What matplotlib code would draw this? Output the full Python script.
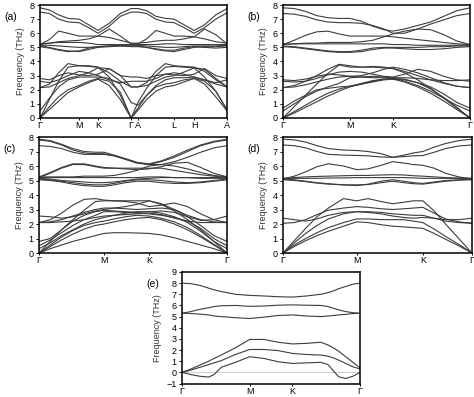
import matplotlib
matplotlib.use("Agg")
import matplotlib.pyplot as plt

plt.rcParams["font.family"] = ["Liberation Sans", "DejaVu Sans"]

# ---------------- panel (a): G-M-K-G-A-L-H-A ----------------
a_k = [0, .05, .10, .15, .209, .26, .31, .37, .43, .487, .524,
       .57, .62, .67, .717, .77, .824, .88, .94, 1.0]
a_ticks = [0, .209, .31, .487, .524, .717, .824, 1.0]
a_labels = ["Γ", "M", "K", "Γ", "A", "L", "H", "A"]
a_bands = [
    [7.8, 7.65, 7.3, 7.05, 7.0, 6.6, 6.2, 6.7, 7.4, 7.75, 7.75, 7.6, 7.2, 7.05, 7.0, 6.6, 6.2, 6.6, 7.3, 7.75],
    [7.5, 7.4, 7.0, 6.8, 6.75, 6.4, 6.0, 6.5, 7.2, 7.5, 7.5, 7.4, 7.0, 6.8, 6.75, 6.4, 6.0, 6.4, 7.0, 7.45],
    [5.2, 5.55, 6.15, 6.0, 5.8, 5.8, 5.8, 6.3, 5.8, 5.25, 5.25, 5.6, 6.2, 6.0, 5.8, 5.8, 5.75, 6.3, 5.9, 5.25],
    [5.2, 5.3, 5.4, 5.45, 5.5, 5.6, 5.8, 5.7, 5.5, 5.3, 5.3, 5.35, 5.45, 5.5, 5.5, 5.6, 5.75, 5.6, 5.4, 5.3],
    [5.25, 5.3, 5.35, 5.35, 5.35, 5.3, 5.2, 5.2, 5.2, 5.2, 5.2, 5.2, 5.2, 5.25, 5.25, 5.2, 5.2, 5.2, 5.2, 5.2],
    [5.1, 5.0, 4.85, 4.75, 4.7, 4.85, 5.0, 5.05, 5.1, 5.1, 5.1, 5.0, 4.85, 4.75, 4.7, 4.85, 5.0, 5.05, 5.05, 5.1],
    [5.05, 4.95, 4.8, 4.7, 4.75, 4.95, 5.05, 5.1, 5.1, 5.05, 5.05, 5.0, 4.9, 4.8, 4.8, 4.95, 5.05, 5.0, 4.95, 5.0],
    [5.15, 5.15, 5.1, 5.05, 5.0, 5.0, 5.05, 5.1, 5.15, 5.15, 5.15, 5.1, 5.05, 5.0, 5.0, 5.05, 5.1, 5.1, 5.1, 5.15],
    [0, .6, 1.2, 1.8, 2.2, 2.5, 2.75, 2.3, 1.3, 0, .55, 1.3, 1.9, 2.2, 2.3, 2.55, 2.8, 2.4, 1.5, .5],
    [0, .8, 1.5, 2.0, 2.3, 2.6, 2.8, 2.6, 1.8, 0, .7, 1.6, 2.2, 2.4, 2.5, 2.7, 2.8, 2.6, 1.9, .6],
    [0, 1.3, 2.6, 3.6, 3.7, 3.65, 3.6, 2.9, 1.6, 0, 1.1, 2.1, 3.0, 3.6, 3.65, 3.6, 3.55, 2.9, 1.9, .55],
    [2.15, 2.4, 3.2, 3.85, 3.7, 3.7, 3.6, 3.2, 2.6, 2.2, 2.2, 2.5, 3.3, 3.85, 3.7, 3.65, 3.6, 3.3, 2.7, 2.2],
    [2.15, 2.2, 2.5, 2.8, 3.0, 3.2, 3.55, 3.5, 3.0, 2.2, 2.2, 2.3, 2.6, 2.9, 3.0, 3.25, 3.55, 3.45, 2.8, 2.2],
    [2.6, 2.5, 2.7, 3.0, 3.3, 3.2, 3.0, 2.7, 2.5, 2.6, 2.6, 2.6, 2.8, 3.1, 3.2, 3.1, 2.9, 2.7, 2.5, 2.7],
    [2.8, 2.7, 3.0, 3.2, 3.05, 3.0, 3.1, 3.5, 3.0, 2.9, 2.9, 2.8, 3.0, 3.1, 3.05, 3.0, 3.1, 3.5, 3.0, 2.8],
    [.5, 1.4, 2.2, 2.7, 2.9, 2.9, 2.9, 2.8, 2.4, 1.1, .9, 1.6, 2.3, 2.7, 2.85, 2.85, 2.9, 2.7, 2.4, 2.2],
]

# ---------------- panel (b): G-M-K-G ----------------
b_k = [0, .06, .12, .18, .24, .30, .358, .42, .48, .54, .588, .65, .72, .79, .86, .93, 1.0]
b_ticks = [0, .358, .588, 1.0]
b_labels = ["Γ", "M", "K", "Γ"]
b_bands = [
    [7.8, 7.75, 7.55, 7.25, 7.1, 7.05, 7.05, 6.85, 6.5, 6.25, 6.15, 6.3, 6.55, 6.8, 7.2, 7.6, 7.8],
    [7.4, 7.35, 7.2, 6.95, 6.8, 6.75, 6.75, 6.7, 6.55, 6.3, 6.0, 6.0, 6.3, 6.65, 6.95, 7.25, 7.4],
    [5.2, 5.5, 5.85, 6.1, 6.15, 5.95, 5.8, 5.8, 5.8, 5.8, 5.75, 5.65, 5.55, 5.45, 5.35, 5.25, 5.2],
    [5.2, 5.25, 5.3, 5.3, 5.35, 5.35, 5.35, 5.4, 5.5, 5.75, 5.95, 6.15, 6.3, 6.25, 5.9, 5.45, 5.2],
    [5.25, 5.25, 5.25, 5.25, 5.25, 5.25, 5.25, 5.25, 5.25, 5.25, 5.2, 5.2, 5.15, 5.15, 5.15, 5.15, 5.15],
    [5.1, 5.05, 4.95, 4.85, 4.75, 4.7, 4.7, 4.8, 4.95, 5.0, 5.0, 5.0, 5.0, 5.05, 5.05, 5.1, 5.1],
    [5.05, 5.0, 4.9, 4.8, 4.7, 4.65, 4.65, 4.7, 4.85, 4.95, 4.95, 4.9, 4.85, 4.85, 4.9, 5.0, 5.05],
    [0, .35, .75, 1.15, 1.55, 1.9, 2.2, 2.4, 2.6, 2.75, 2.75, 2.55, 2.2, 1.75, 1.2, .6, 0],
    [0, .45, .9, 1.35, 1.75, 2.05, 2.25, 2.45, 2.65, 2.75, 2.8, 2.75, 2.5, 2.05, 1.45, .75, 0],
    [0, .8, 1.6, 2.4, 3.15, 3.75, 3.6, 3.6, 3.65, 3.6, 3.5, 3.2, 2.7, 2.1, 1.4, .7, 0],
    [2.15, 2.3, 2.6, 3.0, 3.45, 3.8, 3.7, 3.6, 3.6, 3.55, 3.5, 3.3, 3.0, 2.7, 2.45, 2.25, 2.15],
    [2.15, 2.2, 2.35, 2.55, 2.75, 2.9, 2.95, 3.0, 3.2, 3.45, 3.6, 3.45, 3.2, 2.85, 2.5, 2.25, 2.15],
    [2.6, 2.55, 2.6, 2.8, 3.05, 3.25, 3.3, 3.25, 3.1, 2.95, 2.9, 3.1, 3.45, 3.3, 2.95, 2.7, 2.6],
    [2.7, 2.65, 2.75, 2.95, 3.1, 3.05, 2.95, 2.9, 2.85, 2.85, 2.85, 2.85, 2.8, 2.7, 2.65, 2.65, 2.7],
    [.5, 1.0, 1.5, 1.9, 2.2, 2.45, 2.85, 2.9, 2.95, 2.9, 2.85, 2.6, 2.3, 1.9, 1.4, .9, .5],
    [.7, 1.2, 1.6, 2.0, 2.1, 2.2, 2.25, 2.4, 2.55, 2.7, 2.75, 2.7, 2.5, 2.2, 1.7, 1.1, .7],
]

# ---------------- panel (c): G-M-K-G ----------------
c_k = [0, .06, .12, .18, .24, .30, .346, .40, .46, .52, .585, .65, .72, .79, .86, .93, 1.0]
c_ticks = [0, .346, .585, 1.0]
c_labels = ["Γ", "M", "K", "Γ"]
c_bands = [
    [7.85, 7.75, 7.5, 7.2, 7.0, 6.95, 6.95, 6.75, 6.5, 6.25, 6.15, 6.35, 6.7, 7.1, 7.45, 7.7, 7.85],
    [7.8, 7.7, 7.45, 7.1, 6.9, 6.85, 6.85, 6.7, 6.45, 6.2, 6.1, 6.3, 6.6, 7.0, 7.4, 7.65, 7.8],
    [7.4, 7.35, 7.2, 6.95, 6.8, 6.8, 6.8, 6.7, 6.5, 6.25, 6.1, 6.1, 6.3, 6.6, 6.95, 7.25, 7.4],
    [5.2, 5.5, 5.85, 6.1, 6.1, 5.95, 5.85, 5.85, 5.85, 5.85, 5.85, 5.85, 5.7, 5.55, 5.4, 5.3, 5.2],
    [5.25, 5.55, 5.9, 6.15, 6.15, 6.0, 5.9, 5.85, 5.8, 5.75, 5.8, 5.95, 6.2, 6.25, 5.9, 5.5, 5.25],
    [5.25, 5.25, 5.25, 5.25, 5.3, 5.3, 5.3, 5.35, 5.5, 5.7, 6.0, 6.1, 6.0, 5.8, 5.55, 5.35, 5.25],
    [5.2, 5.2, 5.2, 5.2, 5.2, 5.2, 5.2, 5.2, 5.2, 5.2, 5.25, 5.25, 5.2, 5.2, 5.2, 5.2, 5.2],
    [5.1, 5.05, 4.95, 4.85, 4.75, 4.7, 4.7, 4.8, 4.95, 5.05, 5.05, 5.0, 4.9, 4.85, 4.9, 5.0, 5.1],
    [5.05, 5.0, 4.9, 4.75, 4.65, 4.6, 4.6, 4.7, 4.85, 4.95, 4.95, 4.85, 4.8, 4.8, 4.85, 4.95, 5.05],
    [5.15, 5.1, 5.0, 4.95, 4.9, 4.85, 4.85, 4.9, 5.0, 5.1, 5.15, 5.2, 5.2, 5.2, 5.15, 5.15, 5.15],
    [0, .3, .55, .8, 1.0, 1.2, 1.35, 1.4, 1.4, 1.38, 1.35, 1.25, 1.05, .8, .55, .3, 0],
    [0, .45, .9, 1.3, 1.65, 1.9, 2.0, 2.15, 2.3, 2.4, 2.45, 2.3, 2.0, 1.6, 1.1, .55, 0],
    [0, .55, 1.1, 1.55, 1.9, 2.1, 2.2, 2.35, 2.5, 2.6, 2.55, 2.4, 2.15, 1.75, 1.2, .6, 0],
    [0, .8, 1.6, 2.3, 2.95, 3.55, 3.6, 3.6, 3.6, 3.6, 3.6, 3.35, 2.9, 2.3, 1.6, .8, 0],
    [.3, .7, 1.2, 1.6, 2.0, 2.3, 2.45, 2.6, 2.75, 2.85, 2.85, 2.75, 2.5, 2.1, 1.5, .8, .3],
    [.5, .9, 1.4, 1.9, 2.3, 2.6, 2.85, 2.85, 2.8, 2.75, 2.7, 2.6, 2.45, 2.2, 1.7, 1.0, .5],
    [.8, 1.0, 1.6, 2.2, 2.6, 2.85, 2.95, 2.9, 2.85, 2.8, 2.85, 2.9, 2.8, 2.5, 1.9, 1.2, .8],
    [2.1, 2.3, 2.75, 3.3, 3.7, 3.75, 3.65, 3.6, 3.55, 3.45, 3.2, 3.3, 3.45, 3.2, 2.7, 2.3, 2.1],
    [2.1, 2.15, 2.3, 2.55, 2.8, 3.0, 3.1, 3.1, 3.05, 3.0, 3.05, 3.1, 3.0, 2.6, 2.3, 2.15, 2.1],
    [2.55, 2.5, 2.4, 2.5, 2.7, 2.9, 3.0, 3.1, 3.2, 3.35, 3.6, 3.4, 3.0, 2.5, 2.25, 2.3, 2.55],
    [2.1, 2.1, 2.15, 2.2, 2.3, 2.45, 2.55, 2.6, 2.65, 2.7, 2.75, 2.65, 2.4, 2.2, 2.1, 2.1, 2.1],
]

# ---------------- panel (d): G-M-K-G ----------------
d_k = [0, .06, .12, .18, .24, .32, .39, .45, .52, .58, .64, .69, .74, .80, .86, .93, 1.0]
d_ticks = [0, .39, .74, 1.0]
d_labels = ["Γ", "M", "K", "Γ"]
d_bands = [
    [7.85, 7.8, 7.65, 7.4, 7.2, 7.1, 7.07, 7.0, 6.85, 6.6, 6.75, 6.9, 7.0, 7.3, 7.55, 7.75, 7.85],
    [7.45, 7.4, 7.25, 7.0, 6.8, 6.75, 6.73, 6.7, 6.62, 6.6, 6.65, 6.7, 6.72, 6.95, 7.2, 7.38, 7.45],
    [5.1, 5.3, 5.6, 5.95, 6.15, 6.0, 5.75, 5.8, 6.05, 6.3, 6.2, 6.1, 6.05, 5.85, 5.5, 5.25, 5.1],
    [5.15, 5.2, 5.25, 5.28, 5.3, 5.33, 5.35, 5.35, 5.38, 5.4, 5.38, 5.33, 5.3, 5.25, 5.2, 5.17, 5.15],
    [5.15, 5.15, 5.15, 5.15, 5.17, 5.18, 5.2, 5.2, 5.2, 5.2, 5.2, 5.18, 5.15, 5.15, 5.15, 5.15, 5.15],
    [5.1, 5.05, 4.95, 4.85, 4.78, 4.7, 4.65, 4.75, 4.95, 5.05, 4.95, 4.85, 4.8, 4.9, 5.0, 5.05, 5.1],
    [5.05, 5.0, 4.92, 4.82, 4.75, 4.7, 4.7, 4.72, 4.85, 4.95, 4.85, 4.78, 4.75, 4.85, 4.95, 5.02, 5.05],
    [0, .45, .85, 1.2, 1.5, 1.85, 2.15, 2.1, 1.95, 1.85, 1.8, 1.75, 1.7, 1.35, .95, .5, 0],
    [0, .55, 1.0, 1.4, 1.75, 2.1, 2.35, 2.35, 2.3, 2.3, 2.3, 2.2, 2.1, 1.65, 1.15, .6, 0],
    [0, .7, 1.35, 1.9, 2.35, 2.7, 2.85, 2.85, 2.8, 2.7, 2.65, 2.6, 2.6, 2.4, 2.2, 2.1, 2.05],
    [0, .85, 1.7, 2.5, 3.1, 3.75, 3.6, 3.75, 3.55, 3.4, 3.5, 3.6, 3.6, 2.9, 2.0, 1.0, 0],
    [2.05, 2.1, 2.3, 2.65, 2.95, 3.1, 3.2, 3.15, 3.05, 3.0, 3.05, 3.1, 3.15, 2.75, 2.35, 2.15, 2.05],
    [2.4, 2.3, 2.2, 2.35, 2.6, 2.8, 2.85, 2.8, 2.7, 2.55, 2.45, 2.4, 2.45, 2.4, 2.3, 2.3, 2.4],
]

# ---------------- panel (e): G-M-K-G ----------------
e_k = [0, .05, .1, .15, .18, .22, .3, .38, .46, .54, .62, .70, .78, .82, .85, .88, .92, .96, 1.0]
e_ticks = [0, .38, .62, 1.0]
e_labels = ["Γ", "M", "K", "Γ"]
e_bands = [
    [8.0, 7.95, 7.8, 7.55, 7.4, 7.25, 7.0, 6.9, 6.85, 6.78, 6.75, 6.85, 7.0, 7.15, 7.3, 7.5, 7.7, 7.9, 8.0],
    [5.3, 5.45, 5.65, 5.8, 5.9, 5.97, 6.0, 5.92, 5.95, 6.02, 6.05, 6.02, 6.0, 5.9, 5.75, 5.6, 5.45, 5.35, 5.3],
    [5.3, 5.28, 5.22, 5.15, 5.05, 5.0, 4.9, 4.83, 4.95, 5.1, 5.15, 5.05, 5.0, 5.05, 5.1, 5.15, 5.2, 5.27, 5.3],
    [0, .3, .65, 1.0, 1.25, 1.55, 2.2, 2.95, 2.95, 2.7, 2.55, 2.6, 2.7, 2.45, 2.2, 1.9, 1.4, .9, .4],
    [0, .2, .45, .7, .85, 1.05, 1.6, 2.05, 2.05, 1.95, 1.7, 1.6, 1.55, 1.45, 1.3, 1.1, .8, .5, .3],
    [0, -.2, -.35, -.42, -.2, .45, .9, 1.4, 1.25, .95, .8, .85, .9, .7, .15, -.4, -.55, -.35, 0],
]


def draw_panel(rect, k, bands, ticks, labels, ylim, tag):
    ax = fig.add_axes(rect)
    for band in bands:
        ax.plot(k, band, color="#3c3c3c", lw=0.8)
    ax.set_xlim(0, 1)
    ax.set_ylim(*ylim)
    ax.set_yticks(range(ylim[0], ylim[1] + 1))
    ax.set_xticks(ticks)
    ax.set_xticklabels(labels)
    ax.tick_params(direction="out", length=2.5, width=0.7, labelsize=6.5, pad=1.5)
    ax.tick_params(axis="x", length=1.5, pad=1)
    ax.set_ylabel("Frequency (THz)", fontsize=6.5, color="#333333", labelpad=3)
    for s in ax.spines.values():
        s.set_linewidth(1.1)
    # panel letter sits left of the y label
    fig.text(rect[0] - 0.075, rect[1] + rect[3] - 0.03, tag, fontsize=7.5, ha="left", va="center")
    return ax


fig = plt.figure(figsize=(4.74, 3.97), dpi=100)

draw_panel([0.0844, 0.7028, 0.3945, 0.2846], a_k, a_bands, a_ticks, a_labels, (0, 8), "(a)")
draw_panel([0.597, 0.7028, 0.3945, 0.2846], b_k, b_bands, b_ticks, b_labels, (0, 8), "(b)")
draw_panel([0.0823, 0.3627, 0.3966, 0.2922], c_k, c_bands, c_ticks, c_labels, (0, 8), "(c)")
draw_panel([0.597, 0.3627, 0.3987, 0.2922], d_k, d_bands, d_ticks, d_labels, (0, 8), "(d)")
ax_e = draw_panel([0.384, 0.034, 0.3755, 0.2809], e_k, e_bands, e_ticks, e_labels, (-1, 9), "(e)")
ax_e.axhline(0, color="#d0d0d0", lw=0.8, zorder=0)

fig.savefig("out.png", dpi=100)
